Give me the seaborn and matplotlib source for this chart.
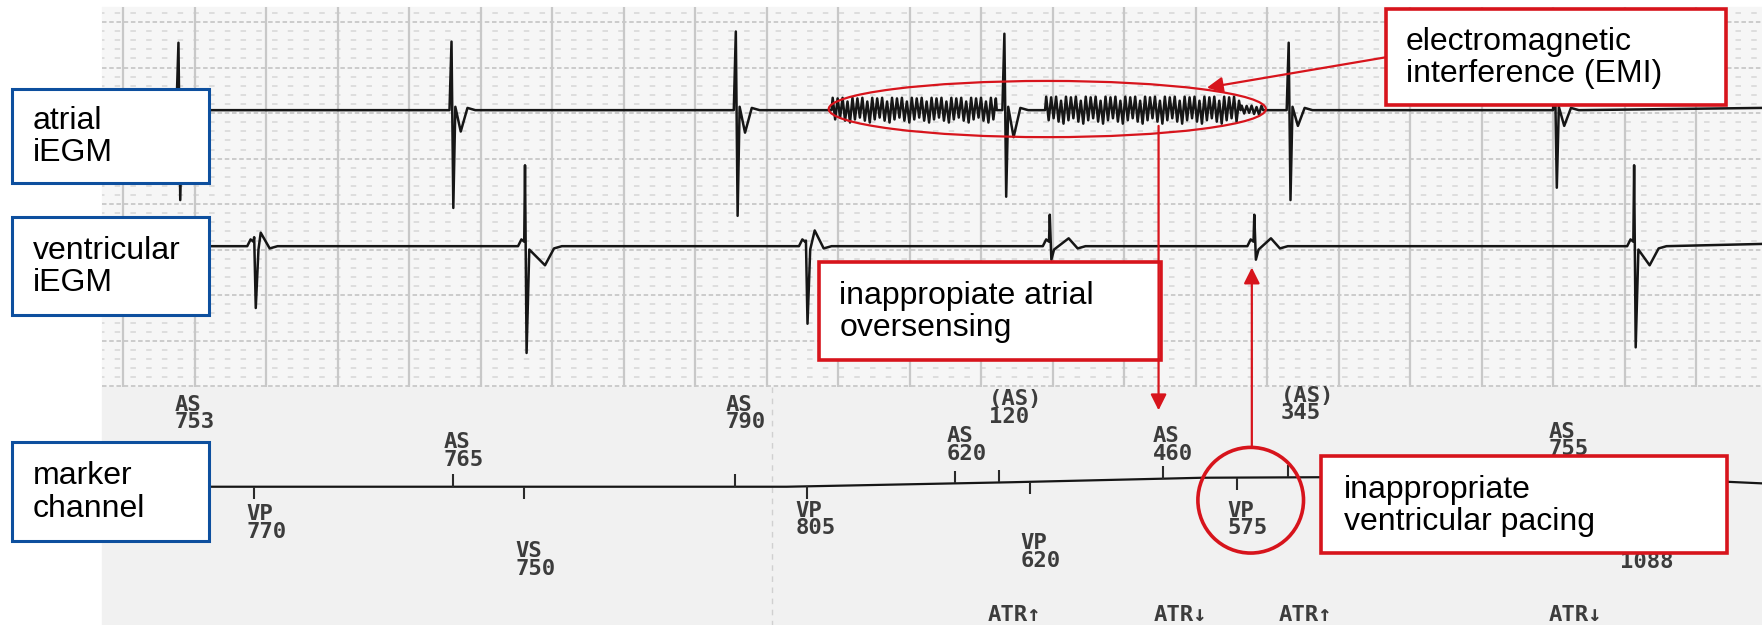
import numpy as np
import matplotlib
matplotlib.use("Agg")
import matplotlib.pyplot as plt
import matplotlib.patches as patches
import seaborn as sns

# %% data (picture units: 1568 x 556 strip, y grows downwards)
atrial_base = 98
atrial_x = [160, 403, 656, 895, 1148, 1385]
atrial_top = [38, 37, 28, 30, 38, 70]
atrial_bottom = [178, 185, 192, 175, 178, 167]
atrial_dip = [101, 117, 118, 122, 112, 112]

emi_start = [740, 930, 1104]
emi_end = [887, 1104, 1124]
emi_amp = [11, 12, 4]

vent_base = 219
vent_x = [227, 468, 718, 935, 1117, 1455]
vent_top = [211, 147, 214, 191, 191, 147]
vent_bottom = [274, 314, 288, 231, 231, 309]
vent_wave = [207, 236, 205, 212, 212, 236]
vent_wave_dx = [5, 17, 7, 16, 14, 13]

marker_line_x = [92, 700, 900, 1070, 1300, 1480, 1568]
marker_line_y = [433, 433, 429, 425, 424, 426, 430]

a_tick_x = [403, 654, 850, 889, 1035, 1146, 1385]
v_tick_x = [226, 466, 718, 917, 1101, 1505]

a_labels = ["AS\n753", "AS\n765", "AS\n790", "AS\n620", "(AS)\n120", "AS\n460", "(AS)\n345", "AS\n755"]
a_label_x = [155, 395, 646, 842, 880, 1026, 1140, 1378]
a_label_y = [368, 401, 368, 396, 363, 396, 360, 392]

v_labels = ["VP\n770", "VS\n750", "VP\n805", "VP\n620", "VP\n575", "1088"]
v_label_x = [219, 459, 708, 908, 1092, 1442]
v_label_y = [465, 498, 462, 491, 462, 500]

atr_labels = ["ATR↑", "ATR↓", "ATR↑", "ATR↓"]
atr_x = [879, 1027, 1138, 1378]
atr_y = 547

RED = "#d7141c"
BLUE = "#0d4f9e"
INK = "#161616"
JITTER = [1.0, 0.75, 0.95, 0.6, 1.0, 0.85, 0.7, 1.0]


def atrial_trace():
    xs, ys = [92.0], [atrial_base]
    for x, t, b, d in zip(atrial_x, atrial_top, atrial_bottom, atrial_dip):
        xs += [x - 3, x - 1.2, x + 0.4, x + 2.2, x + 7, x + 13, x + 20]
        ys += [atrial_base, t, b, atrial_base - 3, d, atrial_base - 2, atrial_base]
    for s, e, a in zip(emi_start, emi_end, emi_amp):
        k = np.arange(s + 1, e, 2.2)
        xs += [s] + list(k) + [e]
        ys += ([atrial_base]
               + [atrial_base + a * JITTER[i % len(JITTER)] * (1 if i % 2 else -1)
                  for i in range(len(k))]
               + [atrial_base])
    xs.append(1568)
    ys.append(atrial_base - 2)
    order = np.argsort(xs, kind="stable")
    return np.array(xs)[order], np.array(ys)[order]


def vent_trace():
    xs, ys = [92.0], [vent_base]
    for x, t, b, w, dx in zip(vent_x, vent_top, vent_bottom, vent_wave, vent_wave_dx):
        xs += [x - 7, x - 4, x - 1.5, x - 0.8, x + 0.6, x + 3, x + dx, x + dx + 8, x + dx + 15]
        ys += [vent_base, vent_base - 6, vent_base - 4, t, b, vent_base + 3, w, vent_base + 2, vent_base]
    xs.append(1568)
    ys.append(vent_base - 2)
    order = np.argsort(xs, kind="stable")
    return np.array(xs)[order], np.array(ys)[order]


# %%
sns.set_theme(style="white")
plt.rcParams["font.family"] = ["Liberation Sans", "DejaVu Sans"]

fig = plt.figure(figsize=(17.62, 6.25), dpi=100)
ax = fig.add_axes([0, 0, 1, 1])
ax.set_xlim(0, 1568)
ax.set_ylim(556, 0)
ax.axis("off")

# paper
ax.add_patch(patches.Rectangle((91, 6), 1477, 338, color="#f6f6f6", zorder=0))
ax.add_patch(patches.Rectangle((91, 344), 1477, 212, color="#f1f1f1", zorder=0))
rows = np.arange(11.5, 344, 8.1)
for i, yy in enumerate(rows):
    heavy = (i % 5) == 1
    ax.hlines(yy, 91, 1568, colors="#c8c8c8" if heavy else "#d6d6d6",
              lw=1.3 if heavy else 1.1,
              linestyles=(0, (2.5, 1.5)) if heavy else (2, (3.6, 6.7)), zorder=1)
for xx in np.arange(109.5, 1568, 63.63):
    ax.vlines(xx, 6, 344, colors="#c8c8c8", lw=1.6, zorder=1)
ax.vlines(687, 344, 556, colors="#d0d0d0", lw=1.0, linestyles=(0, (4, 4)), zorder=1)

# traces
at_x, at_y = atrial_trace()
sns.lineplot(x=at_x, y=at_y, ax=ax, color=INK, lw=1.8, sort=False, estimator=None, zorder=3)
vx, vy = vent_trace()
sns.lineplot(x=vx, y=vy, ax=ax, color=INK, lw=1.8, sort=False, estimator=None, zorder=3)
sns.lineplot(x=marker_line_x, y=marker_line_y, ax=ax, color=INK, lw=1.6, sort=False,
             estimator=None, zorder=3)

line_at = lambda x: np.interp(x, marker_line_x, marker_line_y)
for x in a_tick_x:
    ax.vlines(x, line_at(x) - 11, line_at(x), colors="#2a2a2a", lw=1.5, zorder=3)
for x in v_tick_x:
    ax.vlines(x, line_at(x), line_at(x) + 11, colors="#2a2a2a", lw=1.5, zorder=3)

mono = dict(family="DejaVu Sans Mono", fontweight="bold", color="#3c3c3c",
            fontsize=16, ha="left", va="center", linespacing=0.85, zorder=2)
for s, x, y in zip(a_labels, a_label_x, a_label_y):
    ax.text(x, y, s, **mono)
for s, x, y in zip(v_labels, v_label_x, v_label_y):
    ax.text(x, y, s, **mono)
for s, x in zip(atr_labels, atr_x):
    ax.text(x, atr_y, s, **mono)


def box(x0, y0, x1, y1, edge, text, tx, lw):
    ax.add_patch(patches.Rectangle((x0, y0), x1 - x0, y1 - y0, facecolor="white",
                                   edgecolor=edge, lw=lw, zorder=5))
    ax.text(tx, (y0 + y1) / 2 + 1, text, fontsize=23, color="black", ha="left",
            va="center", linespacing=1.1, zorder=6)


box(11, 79, 186, 163, BLUE, "atrial\niEGM", 29, 2.2)
box(11, 193, 186, 280, BLUE, "ventricular\niEGM", 29, 2.2)
box(11, 393, 186, 481, BLUE, "marker\nchannel", 29, 2.2)

box(1233, 8, 1536, 93, RED, "electromagnetic\ninterference (EMI)", 1251, 2.6)
box(729, 233, 1033, 320, RED, "inappropiate atrial\noversensing", 747, 2.6)
box(1176, 406, 1537, 492, RED, "inappropriate\nventricular pacing", 1196, 2.6)

# annotations
ax.add_patch(patches.Ellipse((932, 97), 389, 50, fill=False, edgecolor=RED, lw=1.6, zorder=7))
ax.add_patch(patches.Ellipse((1113, 445), 94, 94, fill=False, edgecolor=RED, lw=2.6, zorder=7))
arrow = dict(arrowstyle="-|>", color=RED, lw=1.6, mutation_scale=24, shrinkA=0, shrinkB=0)
ax.annotate("", xy=(1074, 78), xytext=(1233, 51), arrowprops=arrow, zorder=7)
ax.annotate("", xy=(1031, 365), xytext=(1031, 112), arrowprops=arrow, zorder=7)
ax.annotate("", xy=(1114, 238), xytext=(1114, 398), arrowprops=arrow, zorder=7)

fig.savefig("out.png", dpi=100)
